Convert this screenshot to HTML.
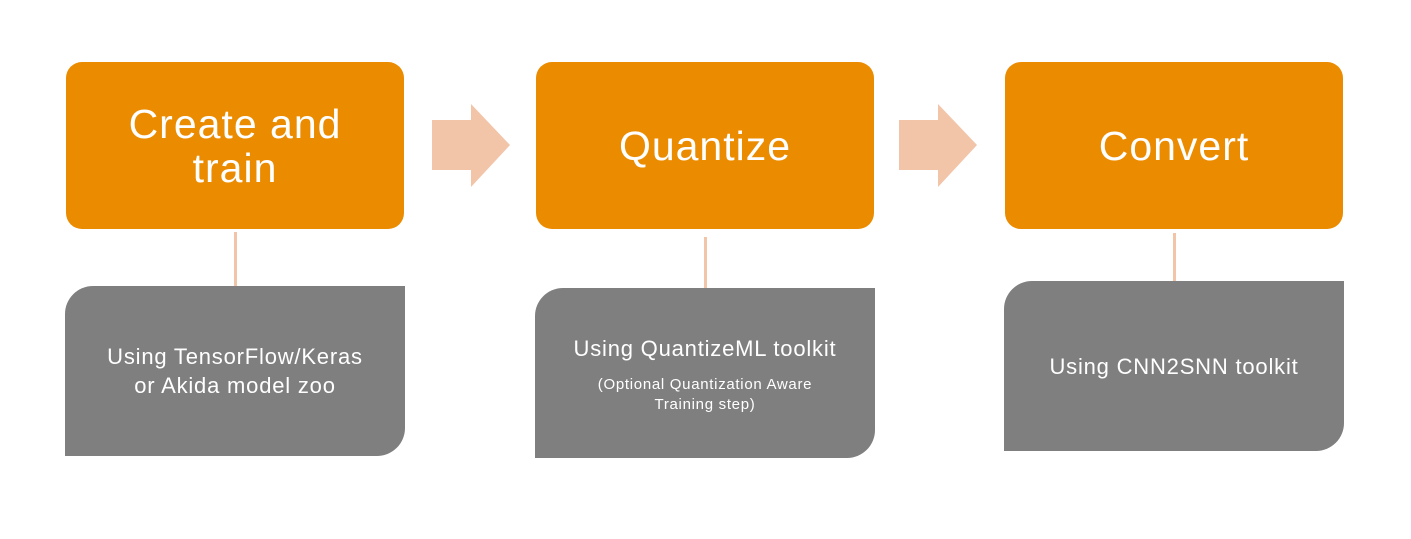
<!DOCTYPE html>
<html><head><style>
body{margin:0;width:1411px;height:539px;background:#fff;position:relative;overflow:hidden;font-family:"Liberation Sans","DejaVu Sans",sans-serif;}
.o{position:absolute;background:#eb8b00;border-radius:16px;color:#fff;display:flex;align-items:center;justify-content:center;text-align:center;font-size:41px;line-height:44px;letter-spacing:1px;}
.g{position:absolute;background:#7f7f7f;border-radius:28px 0 28px 0;color:#fff;display:flex;flex-direction:column;align-items:center;justify-content:center;text-align:center;font-size:22px;line-height:29px;letter-spacing:0.8px;}
.l{position:absolute;width:3px;background:#f2c4a8;}
.s{font-size:15px;line-height:20px;margin-top:12px;letter-spacing:0.7px;}
</style></head><body>
<div class="o" style="left:66px;top:62px;width:338px;height:167px;">Create and<br>train</div>
<div class="o" style="left:536px;top:62px;width:338px;height:167px;">Quantize</div>
<div class="o" style="left:1005px;top:62px;width:338px;height:167px;">Convert</div>
<div class="l" style="left:234px;top:232px;height:54px;"></div>
<div class="l" style="left:704px;top:237px;height:51px;"></div>
<div class="l" style="left:1173px;top:233px;height:48px;"></div>
<div class="g" style="left:65px;top:286px;width:340px;height:170px;"><div>Using TensorFlow/Keras<br>or Akida model zoo</div></div>
<div class="g" style="left:535px;top:288px;width:340px;height:170px;justify-content:flex-start;padding-top:46px;box-sizing:border-box;"><div>Using QuantizeML toolkit</div><div class="s">(Optional Quantization Aware<br>Training step)</div></div>
<div class="g" style="left:1004px;top:281px;width:340px;height:170px;"><div>Using CNN2SNN toolkit</div></div>
<svg style="position:absolute;left:0;top:0" width="1411" height="539">
<polygon points="432,120 471,120 471,104 510,145 471,187 471,170 432,170" fill="#f2c4a8"/>
<polygon points="899,120 938,120 938,104 977,145 938,187 938,170 899,170" fill="#f2c4a8"/>
</svg>
</body></html>
